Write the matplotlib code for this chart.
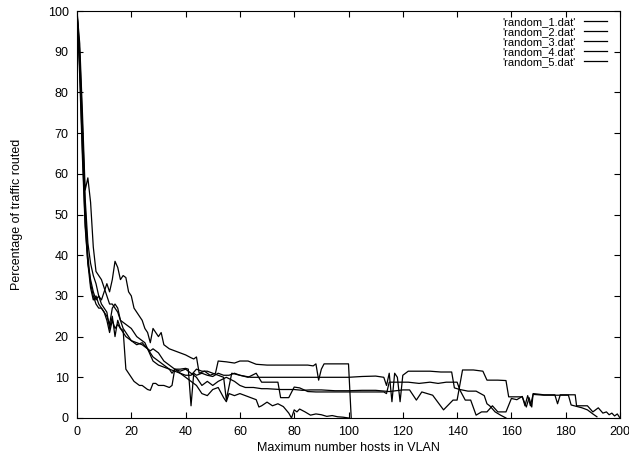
import numpy as np
import matplotlib
matplotlib.use("Agg")
import matplotlib.pyplot as plt

plt.rcParams['font.family'] = ['Liberation Sans', 'DejaVu Sans']

# series (x = hosts, y = % routed)
x1 = [0, 1, 2, 3, 4, 5, 6, 7, 8, 9,
      10, 11, 12, 13, 14, 15, 16, 17, 18, 19,
      20, 21, 22, 23, 24, 25, 26, 27, 28, 29,
      30, 32, 34, 35, 36, 38, 40, 42, 44, 46,
      48, 50, 52, 54, 55, 56, 58, 60, 62, 64,
      66, 67, 68, 70, 72, 74, 76, 78, 79, 80,
      81, 82, 84, 86, 88, 90, 92, 94, 96, 98,
      100]
y1 = [100, 88, 70, 52, 40, 33, 30, 28, 27, 27,
      26, 24, 21, 24, 22, 23, 22, 21.5, 12, 11,
      10, 9, 8.5, 8, 8, 7.5, 7, 6.8, 8.5, 8.5,
      8, 8, 7.5, 8, 12, 11, 10, 9, 8, 6,
      5.5, 7, 7.5, 5, 4, 6, 5.5, 6, 5.5, 5,
      4.5, 2.7, 3, 3.9, 3, 3.5, 2.8, 1.2, 0, 2,
      1.5, 2.2, 1.5, 0.7, 1, 0.8, 0.4, 0.6, 0.3, 0.2,
      0]

x2 = [0, 1, 2, 3, 4, 5, 6, 7, 8, 9,
      10, 11, 12, 13, 14, 15, 16, 17, 18, 19,
      20, 21, 22, 23, 24, 25, 26, 27, 28, 29,
      30, 31, 32, 33, 34, 36, 38, 40, 42, 43,
      44, 45, 47, 49, 51, 52, 55, 58, 60, 63,
      66, 70, 75, 80, 85, 87, 88, 89, 90, 91,
      94, 97, 100, 101]
y2 = [100, 90, 72, 54, 43, 38, 35, 33, 30, 29,
      31, 33, 31, 34, 38.5, 37, 34, 35, 34.5, 31,
      30, 27, 26, 25, 24, 22, 21, 18.5, 22, 21,
      20, 21, 18, 17.5, 17, 16.5, 16, 15.5, 14.8, 14.5,
      15, 11, 11.5, 10.5, 11, 14, 13.8, 13.5, 14, 14,
      13.2, 13, 13, 13, 13, 12.8, 13.3, 9.3, 12, 13.3,
      13.3, 13.3, 13.3, 0]

x3 = [0, 1, 2, 3, 4, 5, 6, 7, 8, 9,
      10, 11, 12, 13, 14, 15, 16, 18, 20, 22,
      24, 25, 26, 27, 28, 30, 32, 34, 35, 36,
      38, 40, 41, 42, 43, 44, 46, 48, 50, 52,
      54, 56, 58, 60, 64, 70, 80, 90, 100, 105,
      110, 113, 114, 115, 116, 117, 118, 119, 120, 121,
      122, 126, 130, 134, 138, 139, 141, 144, 147, 150,
      151, 152, 154, 156, 158]
y3 = [100, 92, 75, 56, 59, 53, 42, 36, 35, 34,
      32, 30, 28, 28, 27, 26, 24, 23, 22, 20,
      19, 18.5, 17, 16.5, 17, 16, 14, 13, 12.5, 12,
      12, 12.2, 12, 3, 11, 10.5, 11, 10.5, 10.2, 11,
      10.5, 10.5, 11, 10.5, 10, 10, 10, 10, 10, 10.2,
      10.3, 10, 8, 11, 4, 11, 10, 4, 10.5, 11,
      11.5, 11.5, 11.5, 11.3, 11.3, 7.4, 7, 6.6, 6.6, 5.5,
      3.5, 3, 1.5, 0.7, 0]

x4 = [0, 1, 2, 3, 4, 5, 6, 7, 8, 9,
      10, 11, 12, 13, 14, 15, 16, 17, 18, 20,
      22, 24, 26, 28, 30, 32, 34, 36, 38, 40,
      42, 44, 46, 48, 50, 52, 54, 55, 57, 60,
      63, 66, 68, 70, 74, 75, 78, 80, 82, 85,
      88, 100, 113, 114, 115, 118, 122, 126, 130, 133,
      136, 140, 141, 143, 145, 147, 149, 151, 153, 155,
      158, 160, 162, 164, 165, 166, 167, 168, 172, 176,
      181, 182, 186, 188, 190, 191.5]
y4 = [100, 86, 66, 48, 38, 32, 29, 30, 28, 27,
      26, 25, 23, 27, 28, 27, 24, 22, 21, 19,
      18, 18.5, 17, 14, 13, 12.5, 12, 11.5, 11, 10.5,
      10.5, 12, 11.5, 11.5, 11, 10.5, 10, 4.5, 11, 10.5,
      10, 11, 8.8, 8.8, 8.8, 5, 5, 7.6, 7.4, 6.5,
      6.4, 6.4, 6.4, 6, 8.8, 8.8, 8.8, 8.5, 8.8, 8.5,
      8.8, 8.8, 6.9, 4.4, 4.4, 0.7, 1.5, 1.5, 3, 1.5,
      1.5, 4.8, 4.5, 5.3, 3, 5.5, 3, 5.8, 5.6, 5.6,
      5.6, 3.2, 2.5, 2, 1, 0.3]

x5 = [0, 1, 2, 3, 4, 5, 6, 7, 8, 9,
      10, 11, 12, 13, 14, 15, 16, 17, 18, 20,
      22, 24, 26, 28, 30, 32, 34, 35, 36, 38,
      40, 42, 44, 46, 48, 50, 52, 55, 58, 60,
      62, 65, 68, 70, 75, 80, 83, 86, 90, 95,
      100, 105, 110, 115, 120, 122.5, 125, 127, 131, 135,
      138.5, 140, 142, 146, 149.5, 151, 155, 158, 159, 164,
      165.5, 166.5, 167.5, 168, 172, 176, 177, 178, 183.5, 184,
      186, 188, 190, 192, 193.7, 195, 196, 197, 198, 199, 200]
y5 = [100, 84, 64, 47, 38, 34, 31, 29, 30, 28,
      27, 26, 22, 25, 20, 24, 22, 21, 20, 19,
      18.5, 18, 17, 15, 14, 13, 12, 11, 12, 11.5,
      12, 11, 10, 8, 9, 8, 9, 10, 9, 8,
      7.5, 7.5, 7.2, 7.2, 7, 7, 6.8, 6.9, 6.9, 6.7,
      6.7, 6.8, 6.8, 6.5, 6.9, 6.9, 4.4, 6.4, 5.6, 2,
      4.4, 4.4, 11.8, 11.8, 11.5, 9.3, 9.3, 9.2, 5.2, 5.2,
      2.7, 5, 2.7, 6, 5.7, 5.7, 3.5, 5.7, 5.7, 3,
      3, 3, 1.5, 2.5, 1.2, 1.5, 0.8, 1.2, 0.5, 1, 0]

series = [(x1, y1), (x2, y2), (x3, y3), (x4, y4), (x5, y5)]
labels = ["'random_1.dat'", "'random_2.dat'", "'random_3.dat'",
          "'random_4.dat'", "'random_5.dat'"]

fig = plt.figure(figsize=(6.29, 4.55), dpi=100)
ax = fig.add_axes([77 / 629, 1 - 418 / 455, 543 / 629, 407 / 455])

for (xs, ys), lab in zip(series, labels):
    ax.plot(xs, ys, color='black', lw=0.9, label=lab)

ax.set_xlim(0, 200)
ax.set_ylim(0, 100)
ax.set_xticks(np.arange(0, 201, 20))
ax.set_yticks(np.arange(0, 101, 10))
ax.tick_params(direction='in', length=4, width=0.8, top=True, right=True,
               labelsize=9, pad=6)
for s in ax.spines.values():
    s.set_linewidth(0.8)

ax.set_xlabel('Maximum number hosts in VLAN', fontsize=9)
ax.set_ylabel('Percentage of traffic routed', fontsize=9)
ax.xaxis.set_label_coords(0.5, -0.058)
ax.yaxis.set_label_coords(-0.10, 0.5)

ax.legend(loc='upper right', bbox_to_anchor=(0.976, 0.985), frameon=False,
          markerfirst=False, fontsize=8, labelspacing=0.0,
          handlelength=2.1, handletextpad=0.7, borderpad=0, borderaxespad=0)

fig.savefig('out.png', dpi=100)
